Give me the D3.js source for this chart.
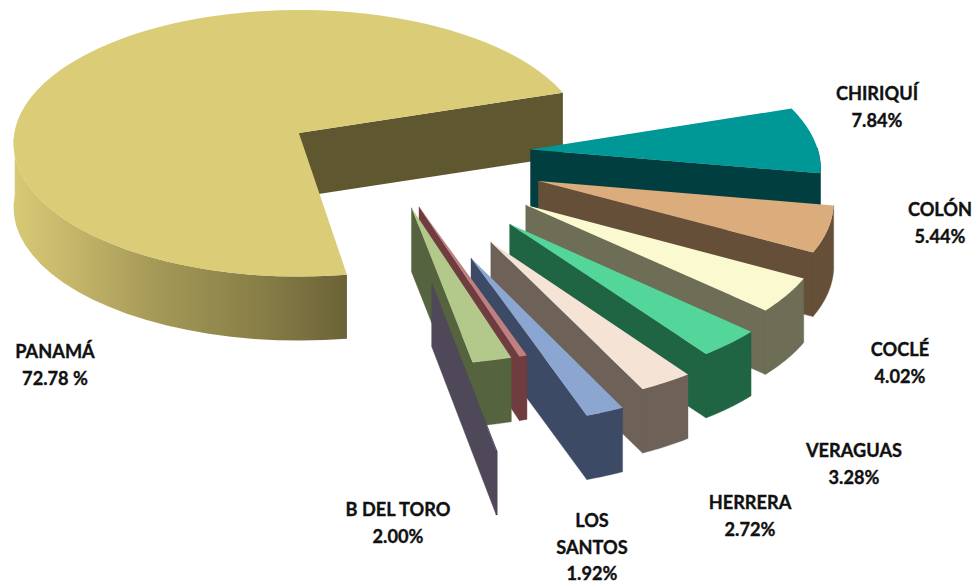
<!DOCTYPE html>
<html><head><meta charset="utf-8">
<script src="https://cdn.jsdelivr.net/npm/d3@7/dist/d3.min.js"></script>
<style>html,body{margin:0;padding:0;background:#fff}svg{display:block}</style>
</head><body><svg id="c" width="979" height="588"></svg>
<script>
const categories=["PANAMÁ","CHIRIQUÍ","COLÓN","COCLÉ","VERAGUAS","HERRERA","LOS SANTOS","(sin etiqueta a)","B DEL TORO","(sin etiqueta b)"];
const values=[72.78,7.84,5.44,4.02,3.28,2.72,1.92,0.4,2.00,0.05];
const valueLabels=["72.78 %","7.84%","5.44%","4.02%","3.28%","2.72%","1.92%",null,"2.00%",null];
const labelLines=[["PANAMÁ"],["CHIRIQUÍ"],["COLÓN"],["COCLÉ"],["VERAGUAS"],["HERRERA"],["LOS","SANTOS"],null,["B DEL TORO"],null];
// layout
const topColors=["#DBCC78","#009797","#DBAC7C","#FAF9D0","#54D69B","#F5E3D6","#8CA6D2","#C08080","#B3C98C","#4F4859"];
const wallColors=["#5F5730","#003E40","#654F38","#6E6D56","#1F6544","#6E6258","#3C4A66","#6F3D40","#55633E","#4F4859"];
const explodeDist=[.004,.812,.888,.923,.957,.998,1.043,.668,.658,1.122];
const explodeDir=[180,8.8,23.4,34.4,43,50.8,57.5,53.1,55.2,67.7];
const labelX=[55,877,940,900,854,750,592,0,398,0];
const labelY=[352,94,210,350,451,503,521,0,510,0];
const cx=300,cy=133,R=284.5,Ry=132.5,k=.077,H=64;

const rad=d=>d*Math.PI/180;
const sx=d3.scaleLinear().domain([0,1]).range([0,R]);
const sy=d3.scaleLinear().domain([0,1]).range([0,Ry]);
const proj=(X,Y)=>{const s=1/(1-k*Y);return [cx+sx(X)*s,cy+sy(Y)*s];};
const pie=d3.pie().sort(null).value(d=>d).startAngle(rad(81)).endAngle(rad(441));
const arcs=pie(values);
const line=d3.line();
const svg=d3.select("#c");
const defs=svg.append("defs");
const g=defs.append("linearGradient").attr("id","pw").attr("gradientUnits","userSpaceOnUse").attr("x1",13).attr("x2",345).attr("y1",0).attr("y2",0);
[[0,"#D8C976"],[.15,"#C8B96C"],[.42,"#A69A58"],[.72,"#8A8048"],[1,"#6C6338"]].forEach(s=>g.append("stop").attr("offset",s[0]).attr("stop-color",s[1]));

arcs.forEach((a,i)=>{
  const ox=explodeDist[i]*Math.cos(rad(explodeDir[i])),oy=explodeDist[i]*Math.sin(rad(explodeDir[i]));
  const P=(t,r)=>proj(ox+r*Math.cos(t),oy+r*Math.sin(t));
  const down=(p)=>[p[0],p[1]+H];
  const g1=svg.append("g");
  const t0=a.startAngle,t1=a.endAngle;
  const apex=P(0,0),c1=P(t1,1);
  const endWall=line([apex,c1,down(c1),down(apex)])+"Z";
  const ts=d3.range(0,61).map(j=>t0+(t1-t0)*j/60).filter(t=>Math.sin(t)>-0.02);
  let outerWall="";
  if(ts.length>1){
    const up=ts.map(t=>P(t,1));
    outerWall=line(up.concat(up.slice().reverse().map(down)))+"Z";
  }
  if(i===0){
    g1.append("path").attr("d",endWall).attr("fill",wallColors[i]);
    g1.append("path").attr("d",outerWall).attr("fill","url(#pw)");
  } else {
    g1.append("path").attr("d",endWall+outerWall).attr("fill",wallColors[i]).attr("stroke",wallColors[i]).attr("stroke-width",.4);
  }
  const rim=d3.range(0,121).map(j=>P(t0+(t1-t0)*j/120,1));
  g1.append("path").attr("d",line([apex,...rim])+"Z").attr("fill",topColors[i]);
});
const fmt=svg.append("g").attr("font-family","Lato, 'Open Sans', sans-serif").attr("font-weight",700).attr("font-size",18.2).attr("fill","#111").attr("stroke","#111").attr("stroke-width",.35).attr("text-anchor","middle");
categories.forEach((c,i)=>{
  if(!labelLines[i])return;
  labelLines[i].concat([valueLabels[i]]).forEach((t,j)=>fmt.append("text").attr("x",labelX[i]).attr("y",labelY[i]+j*26.5+6).text(t));
});
</script></body></html>
